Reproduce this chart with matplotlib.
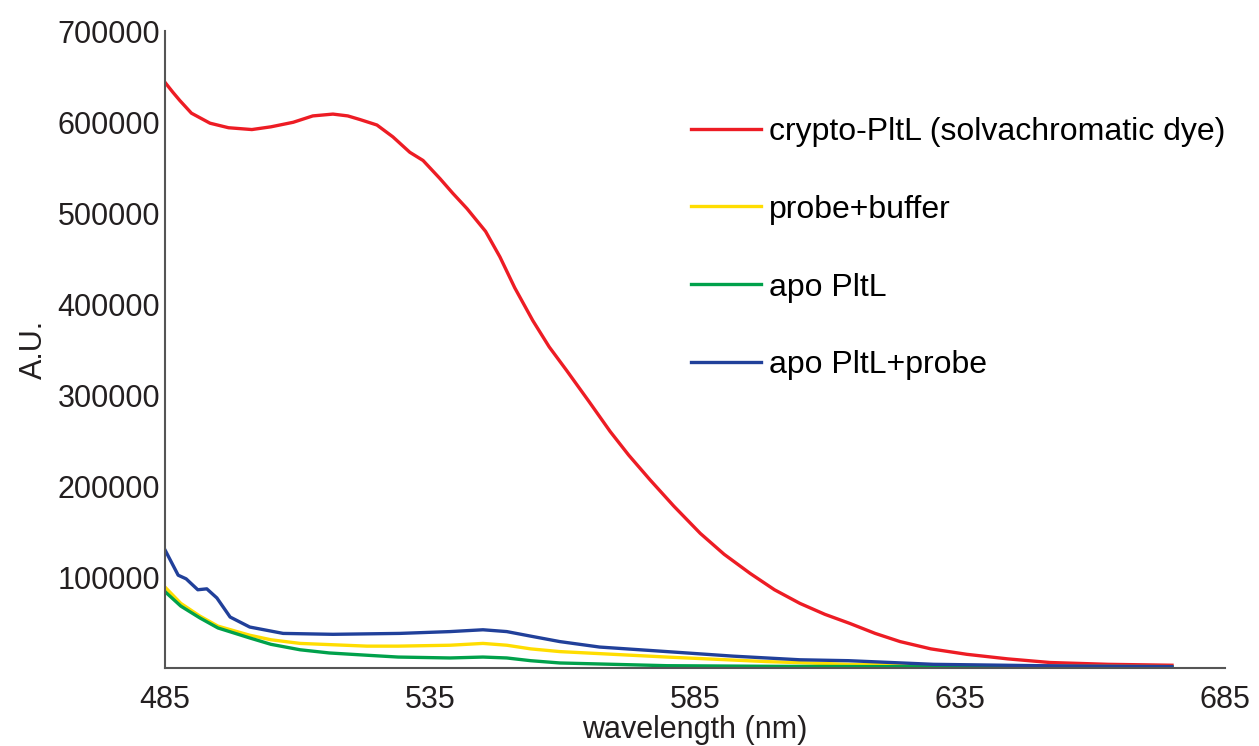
import numpy as np
import matplotlib.pyplot as plt

plt.rcParams["font.family"] = ["Liberation Sans", "DejaVu Sans"]

# emission spectra, read as (wavelength, intensity) pairs
wl_red = [485, 486.5, 487.8, 490, 493.5, 497, 501.4, 505, 509.2, 512.9, 516.7, 519.5,
          521.8, 525, 528, 531.2, 533.7, 536.9, 539.3, 542, 545.5, 548.2, 551, 554.4,
          557.5, 560.8, 565, 569, 572.5, 576.5, 581, 586, 590.5, 595.4, 600, 604.8,
          609.5, 614.2, 619, 623.7, 629.5, 636.3, 644, 652, 663, 675]
red = [644000, 633000, 624000, 610000, 599000, 594000, 592000, 595000, 600000, 607000,
       609000, 607000, 603000, 597000, 584000, 567000, 558000, 538000, 522000, 505000,
       480000, 452000, 418000, 382000, 353000, 327000, 293000, 260000, 234000, 207000,
       178000, 148000, 125000, 104000, 86000, 71000, 59000, 49000, 38000, 29000, 21000,
       15000, 10000, 6000, 4000, 3000]

wl_blue = [485, 487.5, 489, 491.2, 492.9, 494.8, 497.3, 501, 507.3, 516.7, 529.3,
           538.8, 545, 549.5, 554, 559.5, 567, 579.7, 592.2, 604.8, 614, 630, 650, 675]
blue = [130000, 102000, 98000, 86000, 87000, 77000, 56000, 45000, 38000, 37000, 38000,
        40000, 42000, 40000, 35000, 29000, 23000, 18000, 13000, 9000, 8000, 4000, 2500,
        1500]

wl_yellow = [485, 488, 491.6, 495, 501, 505, 510.5, 523.1, 529, 538.8, 545, 549.5,
             554, 559.5, 579.7, 598.6, 614, 635, 675]
yellow = [89000, 71000, 57000, 46000, 36000, 31000, 27000, 24000, 24000, 25000, 27000,
          25000, 21000, 18000, 12000, 7000, 4000, 2500, 1500]

wl_green = [485, 488, 491.6, 495, 501, 505, 510.5, 516, 523.1, 529, 538.8, 545, 549.5,
            554, 559.5, 579.7, 600, 635, 675]
green = [84000, 68000, 55000, 44000, 33000, 26000, 20000, 16500, 14000, 12000, 11000,
         12000, 11000, 8000, 5500, 2500, 1800, 1200, 800]

labels = ["crypto-PltL (solvachromatic dye)", "probe+buffer", "apo PltL", "apo PltL+probe"]

fig = plt.figure(figsize=(12.59, 7.46), dpi=100)
ax = fig.add_axes([0.131, 0.1046, 0.842, 0.8534])

lw = 2.4
ax.plot(wl_red, red, color="#ED1C24", lw=lw, label=labels[0])
ax.plot(wl_yellow, yellow, color="#FFDD00", lw=lw, label=labels[1])
ax.plot(wl_green, green, color="#00A14B", lw=lw, label=labels[2])
ax.plot(wl_blue, blue, color="#21409A", lw=lw, label=labels[3])

ax.set_xlim(485, 685)
ax.set_ylim(0, 700000)
ax.set_xticks([485, 535, 585, 635, 685])
ax.set_yticks([100000, 200000, 300000, 400000, 500000, 600000, 700000])
ax.tick_params(length=0, labelsize=22, colors="#231F20")
ax.tick_params(axis="x", pad=12)
ax.tick_params(axis="y", pad=3.5)

for s in ["top", "right"]:
    ax.spines[s].set_visible(False)
for s in ["left", "bottom"]:
    ax.spines[s].set_color("#555555")
    ax.spines[s].set_linewidth(1.5)

ax.set_xlabel("wavelength (nm)", fontsize=22, color="#231F20", labelpad=0)
ax.set_ylabel("A.U.", fontsize=22, color="#231F20", labelpad=6)

ax.legend(loc="upper left", bbox_to_anchor=(0.484, 0.886), frameon=False, fontsize=23,
          handlelength=2.2, handletextpad=0.25, labelspacing=1.5, borderaxespad=0)

fig.savefig("out.png", dpi=100)
